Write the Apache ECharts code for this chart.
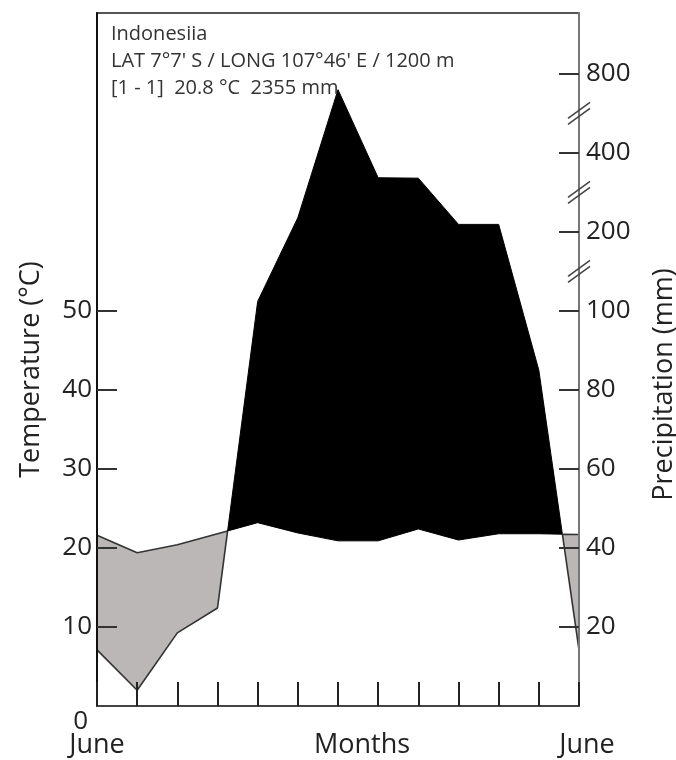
<!DOCTYPE html>
<html>
<head>
<meta charset="utf-8">
<script src="https://cdn.jsdelivr.net/npm/echarts@6/dist/echarts.min.js"></script>
<style>
  html, body { margin: 0; padding: 0; background: #fff; }
  #chart { width: 676px; height: 760px; }
</style>
</head>
<body>
<div id="chart"></div>
<script>
// Climate diagram, Indonesia station (June to June)
const months = ['Jun', 'Jul', 'Aug', 'Sep', 'Oct', 'Nov', 'Dec', 'Jan', 'Feb', 'Mar', 'Apr', 'May', 'Jun'];
const temperature = [21.6, 19.4, 20.4, 21.8, 23.2, 21.9, 20.9, 20.9, 22.4, 21.0, 21.8, 21.8, 21.7];
const precipitation = [14.2, 4, 18.5, 24.8, 112, 236, 720, 337, 336, 219, 219, 85, 14.2];
const tempTicks = [0, 10, 20, 30, 40, 50];
const precipTicks = [20, 40, 60, 80, 100, 200, 400, 800];
const breakMarks = [150, 300, 600];
const infoLines = ['Indonesiia', 'LAT 7°7\' S / LONG 107°46\' E / 1200 m', '[1 - 1]  20.8 °C  2355 mm'];

// Broken precipitation scale: 2 mm per °C up to 100 mm, then each
// doubling segment (100-200, 200-400, 400-800) takes one 10 °C step.
function precipScale(p) {
  if (p <= 100) return p / 2;
  if (p <= 200) return 50 + (p - 100) / 10;
  if (p <= 400) return 60 + (p - 200) / 20;
  return 70 + (p - 400) / 40;
}

const AXIS_MAX = 87.7;
const FONT = 'Open Sans';
const LABEL_SIZE = 26;
const NAME_SIZE = 27;

// Split the area between the two curves into humid / arid runs
function buildRuns() {
  const pts = months.map((m, i) => ({ x: i, t: temperature[i], p: precipScale(precipitation[i]) }));
  const runs = [];
  let cur = [pts[0]];
  for (let i = 0; i < pts.length - 1; i++) {
    const a = pts[i], b = pts[i + 1];
    const da = a.p - a.t, db = b.p - b.t;
    if (da * db < 0) {
      const f = da / (da - db);
      const y = a.t + f * (b.t - a.t);
      const c = { x: a.x + f, t: y, p: y };
      cur.push(c);
      runs.push(cur);
      cur = [c];
    }
    cur.push(b);
  }
  runs.push(cur);
  return runs.map(run => {
    let s = 0;
    run.forEach(q => { s += q.p - q.t; });
    return { humid: s > 0, pts: run };
  });
}
const runs = buildRuns();

const chart = echarts.init(document.getElementById('chart'), null, { renderer: 'canvas' });

chart.setOption({
  animation: false,
  backgroundColor: '#fff',
  title: {
    text: infoLines.join('\n'),
    left: 106,
    top: 16,
    textStyle: { fontFamily: FONT, fontSize: 20, fontWeight: 'normal', color: '#333', lineHeight: 27 }
  },
  grid: { left: 97, right: 97, top: 13, bottom: 54, containLabel: false, outerBoundsMode: 'none' },
  xAxis: [{
    type: 'value',
    min: 0,
    max: 12,
    interval: 1,
    name: 'Months',
    nameLocation: 'middle',
    nameGap: 26,
    nameMoveOverlap: false,
    nameTextStyle: { fontFamily: FONT, fontSize: NAME_SIZE, color: '#222', padding: [0, 0, 0, 48] },
    axisLine: { show: true, onZero: false, lineStyle: { color: '#444', width: 2 } },
    axisTick: { show: true, inside: true, length: 24, lineStyle: { color: '#222', width: 2 } },
    axisLabel: {
      customValues: [0, 12],
      formatter: v => v === 0 ? 'June' : (v === 12 ? '{r|June}' : ''),
      margin: 26,
      fontFamily: FONT, fontSize: NAME_SIZE, color: '#222',
      rich: { r: { fontFamily: FONT, fontSize: NAME_SIZE, color: '#222', padding: [0, 0, 0, 16] } }
    },
    splitLine: { show: false },
    z: 10
  }, {
    type: 'value',
    position: 'top',
    min: 0,
    max: 12,
    axisLine: { show: true, onZero: false, lineStyle: { color: '#555', width: 2 } },
    axisTick: { show: false },
    axisLabel: { show: false },
    splitLine: { show: false }
  }],
  yAxis: [{
    type: 'value',
    min: 0,
    max: AXIS_MAX,
    interval: 10,
    name: 'Temperature (°C)',
    nameLocation: 'middle',
    nameRotate: 90,
    nameGap: 52,
    nameMoveOverlap: false,
    nameTextStyle: { fontFamily: FONT, fontSize: NAME_SIZE, color: '#222', padding: [0, 20, 0, 0] },
    axisLine: { show: true, onZero: false, lineStyle: { color: '#111', width: 2 } },
    axisTick: { show: true, inside: true, length: 20, customValues: tempTicks.filter(v => v > 0), lineStyle: { color: '#333', width: 2 } },
    axisLabel: {
      customValues: tempTicks,
      margin: 5,
      fontFamily: FONT, fontSize: LABEL_SIZE, color: '#222',
      formatter: v => v === 0 ? '{z|0}' : String(v),
      rich: { z: { fontFamily: FONT, fontSize: LABEL_SIZE, color: '#222', padding: [32, 4, 0, 0] } }
    },
    splitLine: { show: false },
    z: 10
  }, {
    type: 'value',
    position: 'right',
    min: 0,
    max: AXIS_MAX,
    interval: 10,
    name: 'Precipitation (mm)',
    nameLocation: 'middle',
    nameRotate: 90,
    nameGap: 72,
    nameMoveOverlap: false,
    nameTextStyle: { fontFamily: FONT, fontSize: NAME_SIZE, color: '#222', padding: [0, 50, 0, 0] },
    axisLine: { show: true, onZero: false, lineStyle: { color: '#777', width: 2 } },
    axisTick: { show: true, inside: true, length: 20, customValues: precipTicks.map(precipScale), lineStyle: { color: '#333', width: 2 } },
    axisLabel: {
      customValues: precipTicks.map(precipScale),
      margin: 7,
      fontFamily: FONT, fontSize: LABEL_SIZE, color: '#222',
      formatter: v => {
        const k = precipTicks.findIndex(p => Math.abs(precipScale(p) - v) < 1e-6);
        return k >= 0 ? String(precipTicks[k]) : '';
      }
    },
    splitLine: { show: false },
    z: 10
  }],
  series: [{
    // humid (black) and arid (grey) areas between the two curves
    type: 'custom',
    xAxisIndex: 0,
    yAxisIndex: 0,
    data: [[0, 0]],
    silent: true,
    z: 2,
    renderItem: function (params, api) {
      const children = runs.map(run => {
        const upper = run.pts.map(q => api.coord([q.x, run.humid ? q.p : q.t]));
        const lower = run.pts.slice().reverse().map(q => api.coord([q.x, run.humid ? q.t : q.p]));
        return {
          type: 'polygon',
          shape: { points: upper.concat(lower) },
          style: run.humid
            ? { fill: '#000', stroke: '#000', lineWidth: 1 }
            : { fill: '#bbb7b7', stroke: '#333', lineWidth: 1.6, lineJoin: 'round' }
        };
      });
      return { type: 'group', children: children };
    }
  }, {
    // scale breaks on the precipitation axis
    type: 'custom',
    xAxisIndex: 0,
    yAxisIndex: 1,
    data: breakMarks.map(p => [12, precipScale(p)]),
    silent: true,
    z: 12,
    renderItem: function (params, api) {
      const c = api.coord([api.value(0), api.value(1)]);
      const mk = (dy) => ({
        type: 'line',
        shape: { x1: c[0] - 11, y1: c[1] + 8 + dy, x2: c[0] + 11, y2: c[1] - 8 + dy },
        style: { stroke: '#444', lineWidth: 1.5 }
      });
      return { type: 'group', children: [mk(-3), mk(3)] };
    }
  }]
});
</script>
</body>
</html>
